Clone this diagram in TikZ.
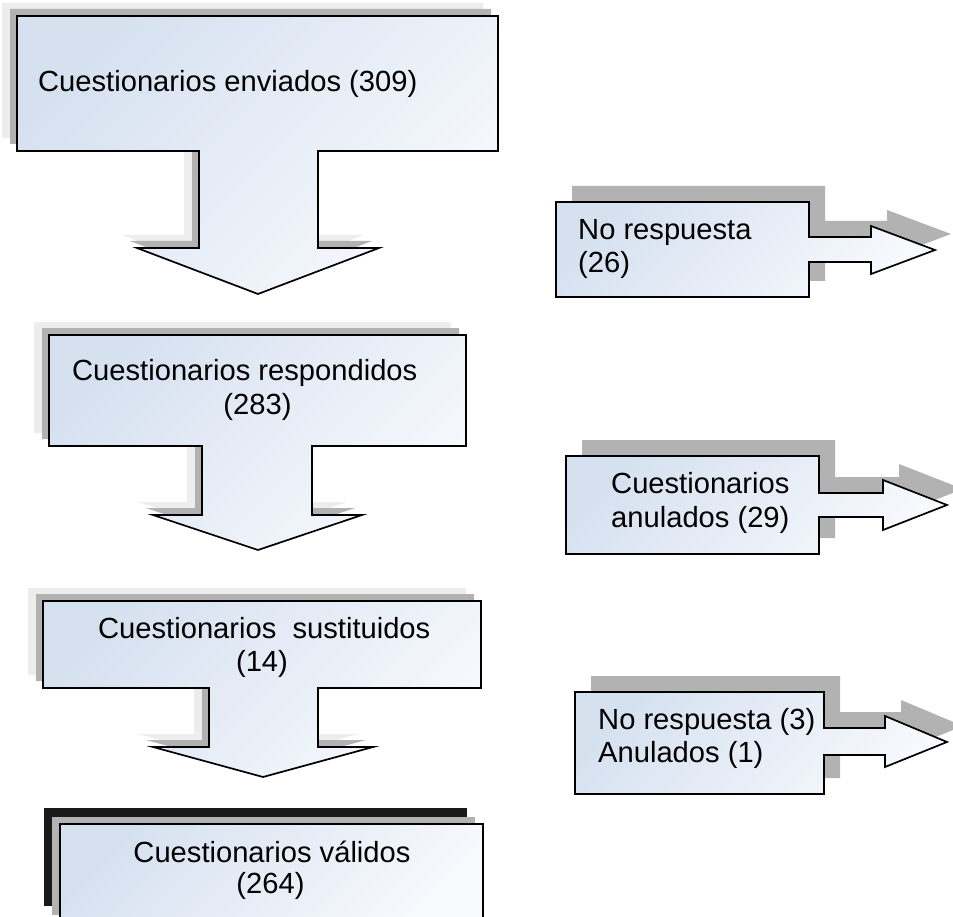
\documentclass[tikz,border=0pt]{standalone}
\usepackage{fontspec}
\setmainfont{Liberation Sans}
\definecolor{boxdark}{RGB}{214,225,240}
\definecolor{boxlight}{RGB}{247,249,253}
\tikzset{
	box/.style={draw=black, line width=1.7pt, line join=miter, top color=boxdark, bottom color=boxlight, shading angle=45},
	shadowdark/.style={fill=gray!60},
	shadowlight/.style={fill=gray!14},
	txt/.style={inner sep=0pt, font=\fontsize{29.15}{33.5}\selectfont}
}
% outlines of the callouts, in pixels of the page
\newcommand\pathenviados{(17,16) -- (498,16) -- (498,151) -- (318,151) -- (318,248) -- (379,248) -- (258,294) -- (137,248) -- (199,248) -- (199,151) -- (17,151) -- cycle}
\newcommand\pathrespondidos{(49,335) -- (466,335) -- (466,446) -- (312,446) -- (312,515) -- (362,515) -- (258,550) -- (153,515) -- (202,515) -- (202,446) -- (49,446) -- cycle}
\newcommand\pathsustituidos{(43,601) -- (481,601) -- (481,688) -- (318,688) -- (318,747) -- (373,747) -- (263,777) -- (153,747) -- (209,747) -- (209,688) -- (43,688) -- cycle}
\newcommand\pathnoresp{(556,202) -- (809,202) -- (809,237) -- (871,237) -- (871,226) -- (935,250) -- (871,274) -- (871,262) -- (809,262) -- (809,297) -- (556,297) -- cycle}
\newcommand\pathanulados{(566,456) -- (819,456) -- (819,493) -- (883,493) -- (883,480) -- (947,505) -- (883,530) -- (883,517) -- (819,517) -- (819,554) -- (566,554) -- cycle}
\newcommand\pathbajas{(575,692) -- (824,692) -- (824,728) -- (885,728) -- (885,716) -- (947,742) -- (885,767) -- (885,755) -- (824,755) -- (824,794) -- (575,794) -- cycle}
\begin{document}
\begin{tikzpicture}[x=1pt, y=-1pt]
	\clip (0,0) rectangle (953,917);
	% main column
	\foreach \p in {\pathenviados, \pathrespondidos, \pathsustituidos} {
		\fill[shadowlight, shift={(-15,-13)}] \p;
		\fill[shadowdark, shift={(-7,-7)}] \p;
		\draw[box] \p;
	}
	\fill[black!90] (44,808) rectangle (467,906);
	\fill[shadowdark] (52,817) rectangle (475,915);
	\draw[box] (60,824) rectangle (483,922);
	% side callouts
	\foreach \p in {\pathnoresp, \pathanulados, \pathbajas} {
		\fill[shadowdark, shift={(16,-16)}] \p;
		\draw[box] \p;
	}
	% texts
	\node[txt, anchor=base west] (enviados) at (38,92) {Cuestionarios enviados (309)};
	\node[txt, anchor=base west] (resp1) at (72,380) {Cuestionarios respondidos};
	\node[txt, anchor=base] (resp2) at (257.5,414) {(283)};
	\node[txt, anchor=base west] (sust1) at (98,638) {Cuestionarios\ \ sustituidos};
	\node[txt, anchor=base] (sust2) at (262,671) {(14)};
	\node[txt, anchor=base] (valid1) at (272,862) {Cuestionarios válidos};
	\node[txt, anchor=base] (valid2) at (270.5,893) {(264)};
	\node[txt, anchor=base west] (noresp1) at (578,240) {No respuesta};
	\node[txt, anchor=base west] (noresp2) at (578,273) {(26)};
	\node[txt, anchor=base west] (anul1) at (611,493) {Cuestionarios};
	\node[txt, anchor=base west] (anul2) at (611,527) {anulados (29)};
	\node[txt, anchor=base west] (bajas1) at (598,729) {No respuesta (3)};
	\node[txt, anchor=base west] (bajas2) at (598,762) {Anulados (1)};
\end{tikzpicture}
\end{document}
